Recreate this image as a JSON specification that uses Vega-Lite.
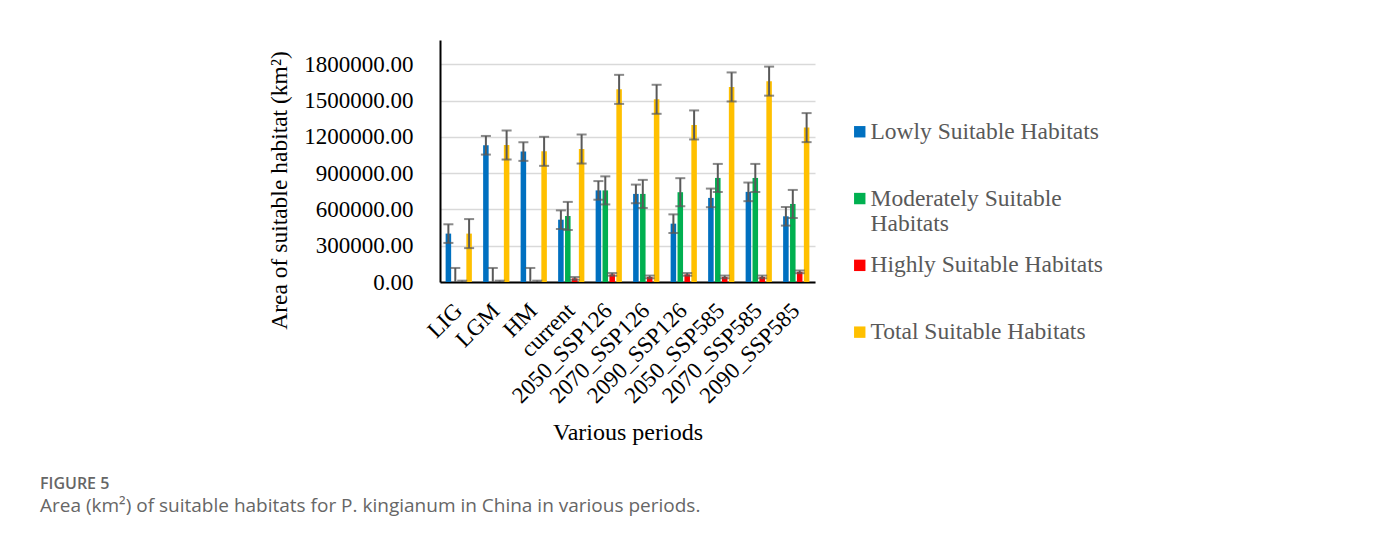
{
  "$schema": "https://vega.github.io/schema/vega-lite/v6.json",
  "width": 375,
  "height": 242,
  "autosize": "none",
  "padding": {"left": 440, "top": 40, "right": 560, "bottom": 255},
  "background": "white",
  "title": {
    "text": "FIGURE 5",
    "subtitle": "Area (km²) of suitable habitats for P. kingianum in China in various periods.",
    "orient": "bottom",
    "anchor": "start",
    "frame": "group",
    "dx": -400,
    "offset": 32,
    "font": "Open Sans",
    "fontSize": 16,
    "fontWeight": 600,
    "color": "#666666",
    "subtitleFont": "Open Sans",
    "subtitleFontSize": 19,
    "subtitleColor": "#666666",
    "subtitlePadding": 5
  },
  "data": {
    "values": [
      {"period": "LIG", "type": "Lowly Suitable Habitats", "value": 400000, "lo": 323000, "hi": 477000},
      {"period": "LIG", "type": "Moderately Suitable Habitats", "value": 0, "lo": -116000, "hi": 116000},
      {"period": "LIG", "type": "Highly Suitable Habitats", "value": 0, "lo": -11000, "hi": 11000},
      {"period": "LIG", "type": "Total Suitable Habitats", "value": 400000, "lo": 280000, "hi": 520000},
      {"period": "LGM", "type": "Lowly Suitable Habitats", "value": 1130000, "lo": 1053000, "hi": 1207000},
      {"period": "LGM", "type": "Moderately Suitable Habitats", "value": 0, "lo": -116000, "hi": 116000},
      {"period": "LGM", "type": "Highly Suitable Habitats", "value": 0, "lo": -11000, "hi": 11000},
      {"period": "LGM", "type": "Total Suitable Habitats", "value": 1132000, "lo": 1012000, "hi": 1252000},
      {"period": "HM", "type": "Lowly Suitable Habitats", "value": 1078000, "lo": 1001000, "hi": 1155000},
      {"period": "HM", "type": "Moderately Suitable Habitats", "value": 0, "lo": -116000, "hi": 116000},
      {"period": "HM", "type": "Highly Suitable Habitats", "value": 0, "lo": -11000, "hi": 11000},
      {"period": "HM", "type": "Total Suitable Habitats", "value": 1080000, "lo": 960000, "hi": 1200000},
      {"period": "current", "type": "Lowly Suitable Habitats", "value": 515000, "lo": 438000, "hi": 592000},
      {"period": "current", "type": "Moderately Suitable Habitats", "value": 546000, "lo": 430000, "hi": 662000},
      {"period": "current", "type": "Highly Suitable Habitats", "value": 30000, "lo": 19000, "hi": 41000},
      {"period": "current", "type": "Total Suitable Habitats", "value": 1099000, "lo": 979000, "hi": 1219000},
      {"period": "2050_SSP126", "type": "Lowly Suitable Habitats", "value": 757000, "lo": 680000, "hi": 834000},
      {"period": "2050_SSP126", "type": "Moderately Suitable Habitats", "value": 757000, "lo": 641000, "hi": 873000},
      {"period": "2050_SSP126", "type": "Highly Suitable Habitats", "value": 63000, "lo": 52000, "hi": 74000},
      {"period": "2050_SSP126", "type": "Total Suitable Habitats", "value": 1592000, "lo": 1472000, "hi": 1712000},
      {"period": "2070_SSP126", "type": "Lowly Suitable Habitats", "value": 728000, "lo": 651000, "hi": 805000},
      {"period": "2070_SSP126", "type": "Moderately Suitable Habitats", "value": 728000, "lo": 612000, "hi": 844000},
      {"period": "2070_SSP126", "type": "Highly Suitable Habitats", "value": 42000, "lo": 31000, "hi": 53000},
      {"period": "2070_SSP126", "type": "Total Suitable Habitats", "value": 1510000, "lo": 1390000, "hi": 1630000},
      {"period": "2090_SSP126", "type": "Lowly Suitable Habitats", "value": 482000, "lo": 405000, "hi": 559000},
      {"period": "2090_SSP126", "type": "Moderately Suitable Habitats", "value": 742000, "lo": 626000, "hi": 858000},
      {"period": "2090_SSP126", "type": "Highly Suitable Habitats", "value": 63000, "lo": 52000, "hi": 74000},
      {"period": "2090_SSP126", "type": "Total Suitable Habitats", "value": 1298000, "lo": 1178000, "hi": 1418000},
      {"period": "2050_SSP585", "type": "Lowly Suitable Habitats", "value": 695000, "lo": 618000, "hi": 772000},
      {"period": "2050_SSP585", "type": "Moderately Suitable Habitats", "value": 860000, "lo": 744000, "hi": 976000},
      {"period": "2050_SSP585", "type": "Highly Suitable Habitats", "value": 42000, "lo": 31000, "hi": 53000},
      {"period": "2050_SSP585", "type": "Total Suitable Habitats", "value": 1612000, "lo": 1492000, "hi": 1732000},
      {"period": "2070_SSP585", "type": "Lowly Suitable Habitats", "value": 745000, "lo": 668000, "hi": 822000},
      {"period": "2070_SSP585", "type": "Moderately Suitable Habitats", "value": 860000, "lo": 744000, "hi": 976000},
      {"period": "2070_SSP585", "type": "Highly Suitable Habitats", "value": 42000, "lo": 31000, "hi": 53000},
      {"period": "2070_SSP585", "type": "Total Suitable Habitats", "value": 1660000, "lo": 1540000, "hi": 1780000},
      {"period": "2090_SSP585", "type": "Lowly Suitable Habitats", "value": 543000, "lo": 466000, "hi": 620000},
      {"period": "2090_SSP585", "type": "Moderately Suitable Habitats", "value": 645000, "lo": 529000, "hi": 761000},
      {"period": "2090_SSP585", "type": "Highly Suitable Habitats", "value": 84000, "lo": 73000, "hi": 95000},
      {"period": "2090_SSP585", "type": "Total Suitable Habitats", "value": 1276000, "lo": 1156000, "hi": 1396000}
    ]
  },
  "encoding": {
    "x": {
      "field": "period",
      "type": "nominal",
      "sort": ["LIG", "LGM", "HM", "current", "2050_SSP126", "2070_SSP126", "2090_SSP126", "2050_SSP585", "2070_SSP585", "2090_SSP585"],
      "scale": {"paddingInner": 0.3, "paddingOuter": 0.15},
      "title": "Various periods",
      "axis": {
        "labelAngle": -45,
        "labelFont": "Liberation Serif",
        "labelFontSize": 23,
        "labelColor": "#000000",
        "labelPadding": 17,
        "labelOffset": -8,
        "ticks": false,
        "domainColor": "#000000",
        "domainWidth": 2,
        "titleFont": "Liberation Serif",
        "titleFontSize": 24,
        "titleFontWeight": "normal",
        "titleColor": "#000000",
        "titlePadding": 13
      }
    },
    "xOffset": {
      "field": "type",
      "type": "nominal",
      "sort": ["Lowly Suitable Habitats", "Moderately Suitable Habitats", "Highly Suitable Habitats", "Total Suitable Habitats"],
      "scale": {"paddingInner": 0.2}
    }
  },
  "layer": [
    {
      "mark": {"type": "bar"},
      "encoding": {
        "y": {
          "field": "value",
          "type": "quantitative",
          "title": "Area of suitable habitat (km²)",
          "scale": {"domain": [0, 2000000], "nice": false},
          "axis": {
            "values": [0, 300000, 600000, 900000, 1200000, 1500000, 1800000],
            "format": ".2f",
            "labelFont": "Liberation Serif",
            "labelFontSize": 23,
            "labelColor": "#000000",
            "labelPadding": 27,
            "ticks": false,
            "domainColor": "#000000",
            "domainWidth": 2,
            "grid": true,
            "gridColor": "#d9d9d9",
            "gridWidth": 1.5,
            "titleFont": "Liberation Serif",
            "titleFontSize": 23.5,
            "titleFontWeight": "normal",
            "titleColor": "#000000",
            "titlePadding": 12,
            "titleY": 150
          }
        },
        "color": {
          "field": "type",
          "type": "nominal",
          "scale": {
            "domain": ["Lowly Suitable Habitats", "Moderately Suitable Habitats", "Highly Suitable Habitats", "Total Suitable Habitats"],
            "range": ["#0070C0", "#00B050", "#FF0000", "#FFC000"]
          },
          "legend": {
            "orient": "none",
            "legendX": 408,
            "legendY": 80,
            "title": null,
            "padding": 0,
            "symbolType": "square",
            "symbolSize": 130,
            "symbolStrokeWidth": 0,
            "labelFont": "Liberation Serif",
            "labelFontSize": 23.5,
            "labelColor": "#595959",
            "labelOffset": -1,
            "labelLimit": 0,
            "gridAlign": "all",
            "rowPadding": 16.8,
            "labelExpr": "datum.label == 'Moderately Suitable Habitats' ? ['Moderately Suitable', 'Habitats'] : datum.label"
          }
        }
      }
    },
    {
      "mark": {"type": "rule", "clip": true, "color": "#595959", "strokeWidth": 2},
      "encoding": {
        "y": {"field": "lo", "type": "quantitative", "title": "Area of suitable habitat (km²)"},
        "y2": {"field": "hi"}
      }
    },
    {
      "mark": {"type": "tick", "clip": true, "color": "#595959", "thickness": 2, "size": 10},
      "encoding": {
        "y": {"field": "lo", "type": "quantitative", "title": "Area of suitable habitat (km²)"}
      }
    },
    {
      "mark": {"type": "tick", "clip": true, "color": "#595959", "thickness": 2, "size": 10},
      "encoding": {
        "y": {"field": "hi", "type": "quantitative", "title": "Area of suitable habitat (km²)"}
      }
    }
  ],
  "config": {
    "view": {"stroke": null},
    "axis": {"gridColor": "#d9d9d9"}
  }
}
